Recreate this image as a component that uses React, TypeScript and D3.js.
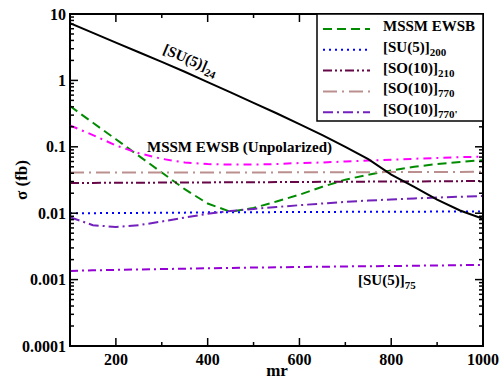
import * as d3 from "d3";

// mr grid (GeV) and cross sections (fb)
const mr = [100, 150, 200, 250, 300, 350, 400, 450, 500, 550, 600, 650, 700, 750, 800, 850, 900, 950, 1000];

const su5_24 = [7.3, 5.2, 3.7, 2.65, 1.9, 1.35, 0.94, 0.66, 0.46, 0.32, 0.22, 0.15, 0.1, 0.065, 0.038, 0.025, 0.016, 0.011, 0.0082];
const mssmEwsb = [0.41, 0.23, 0.13, 0.073, 0.041, 0.023, 0.014, 0.0105, 0.012, 0.015, 0.019, 0.025, 0.032, 0.038, 0.044, 0.05, 0.055, 0.059, 0.063];
const mssmUnpol = [0.21, 0.15, 0.105, 0.08, 0.066, 0.058, 0.055, 0.054, 0.054, 0.055, 0.057, 0.058, 0.06, 0.062, 0.064, 0.066, 0.068, 0.07, 0.071];
const su5_200 = [0.01, 0.01, 0.0101, 0.0101, 0.0102, 0.0102, 0.0103, 0.0103, 0.0103, 0.0104, 0.0104, 0.0104, 0.0105, 0.0105, 0.0105, 0.0105, 0.0106, 0.0106, 0.0106];
const so10_210 = [0.0285, 0.0286, 0.0287, 0.0288, 0.0289, 0.029, 0.0291, 0.0292, 0.0293, 0.0294, 0.0295, 0.0297, 0.0298, 0.0299, 0.03, 0.0301, 0.0302, 0.0304, 0.0306];
const so10_770 = [0.041, 0.041, 0.041, 0.041, 0.041, 0.041, 0.041, 0.041, 0.041, 0.0412, 0.0412, 0.0413, 0.0414, 0.0415, 0.0416, 0.0417, 0.0418, 0.0419, 0.042];
const so10_770p = [0.0087, 0.0066, 0.0062, 0.0066, 0.0075, 0.0086, 0.0098, 0.0108, 0.0116, 0.0124, 0.0132, 0.014, 0.0148, 0.0155, 0.0161, 0.0167, 0.0172, 0.0177, 0.0182];
const su5_75 = [0.00135, 0.00138, 0.0014, 0.00142, 0.00144, 0.00146, 0.00148, 0.0015, 0.00152, 0.00153, 0.00155, 0.00156, 0.00158, 0.00159, 0.0016, 0.00162, 0.00163, 0.00165, 0.00166];

const xTicks = [200, 400, 600, 800, 1000];
const xMinor = [300, 500, 700, 900];
const yTicks = [0.0001, 0.001, 0.01, 0.1, 1, 10];
const yTickLabels = ["0.0001", "0.001", "0.01", "0.1", "1", "10"];

const FONT = "'Liberation Serif', 'Times New Roman', serif";

const series = [
  { name: "MSSM EWSB", sub: "", vals: mssmEwsb, color: "#008b00", dash: "9,5", legend: true },
  { name: "[SU(5)]", sub: "200", vals: su5_200, color: "#0000ff", dash: "2,4", legend: true },
  { name: "[SO(10)]", sub: "210", vals: so10_210, color: "#670748", dash: "9,3,2,3,2,3", legend: true },
  { name: "[SO(10)]", sub: "770", vals: so10_770, color: "#bc8f8f", dash: "14,5,2,5", legend: true },
  { name: "[SO(10)]", sub: "770'", vals: so10_770p, color: "#7221bc", dash: "10,4,2,4", legend: true },
  { name: "", sub: "", vals: mssmUnpol, color: "#ff00ff", dash: "8,5,2,5", legend: false },
  { name: "", sub: "", vals: su5_75, color: "#9400d3", dash: "8,4,2,4", legend: false },
  { name: "", sub: "", vals: su5_24, color: "#000000", dash: "", legend: false },
];

export default function App() {
  const W = 502, H = 379;
  const left = 70, right = 483, top = 14, bottom = 346;
  const x = d3.scaleLinear().domain([100, 1000]).range([left, right]);
  const y = d3.scaleLog().domain([0.0001, 10]).range([bottom, top]);

  const line = (vals: number[]) =>
    d3.line<number>().x((_, i) => x(mr[i])).y((v) => y(v))(vals) || "";

  const minorY: number[] = [];
  for (let e = -4; e < 1; e++) {
    for (let m = 2; m <= 9; m++) minorY.push(m * Math.pow(10, e));
  }

  const legX0 = 317, legX1 = 483, legY0 = 14, legY1 = 121;
  const rowY = (i: number) => 29 + i * 20.8;

  return (
    <svg width={W} height={H} style={{ position: "absolute", left: 0, top: 0, background: "#fff", fontFamily: FONT }}
      fontWeight="bold">
      <defs>
        <clipPath id="plot">
          <rect x={left} y={top} width={right - left} height={bottom - top} />
        </clipPath>
      </defs>

      <g clipPath="url(#plot)" fill="none">
        {series.map((s, i) => (
          <path key={i} d={line(s.vals)} stroke={s.color} strokeWidth={2}
            strokeDasharray={s.dash || undefined} />
        ))}
      </g>

      {/* ticks */}
      <g stroke="#000" strokeWidth={1.5}>
        {xTicks.map((t) => (
          <g key={"xt" + t}>
            <line x1={x(t)} x2={x(t)} y1={bottom} y2={bottom - 8} />
            <line x1={x(t)} x2={x(t)} y1={top} y2={top + 8} />
          </g>
        ))}
        {xMinor.map((t) => (
          <g key={"xm" + t}>
            <line x1={x(t)} x2={x(t)} y1={bottom} y2={bottom - 4} />
            <line x1={x(t)} x2={x(t)} y1={top} y2={top + 4} />
          </g>
        ))}
        {yTicks.map((t) => (
          <g key={"yt" + t}>
            <line x1={left} x2={left + 8} y1={y(t)} y2={y(t)} />
            <line x1={right} x2={right - 8} y1={y(t)} y2={y(t)} />
          </g>
        ))}
        {minorY.map((t) => (
          <g key={"ym" + t}>
            <line x1={left} x2={left + 4} y1={y(t)} y2={y(t)} />
            <line x1={right} x2={right - 4} y1={y(t)} y2={y(t)} />
          </g>
        ))}
      </g>

      <rect x={left} y={top} width={right - left} height={bottom - top}
        fill="none" stroke="#000" strokeWidth={2} />

      {/* tick labels */}
      <g fontSize={16} fill="#000">
        {xTicks.map((t) => (
          <text key={"xl" + t} x={x(t)} y={365} textAnchor="middle">{t}</text>
        ))}
        {yTicks.map((t, i) => (
          <text key={"yl" + t} x={66} y={y(t)} dy="0.35em" textAnchor="end">{yTickLabels[i]}</text>
        ))}
      </g>

      {/* axis titles */}
      <text x={277} y={376} textAnchor="middle" fontSize={17}>mr</text>
      <text transform="translate(27,180) rotate(-90)" textAnchor="middle" fontSize={17}>σ (fb)</text>

      {/* legend */}
      <rect x={legX0} y={legY0} width={legX1 - legX0} height={legY1 - legY0}
        fill="#fff" stroke="#000" strokeWidth={1.5} />
      {series.filter((s) => s.legend).map((s, i) => (
        <g key={"lg" + i}>
          <line x1={323} x2={370} y1={rowY(i)} y2={rowY(i)} stroke={s.color}
            strokeWidth={2} strokeDasharray={s.dash || undefined} />
          <text x={383} y={rowY(i) + 2} fontSize={15}>
            {s.name}
            {s.sub && <tspan fontSize={11} dy={4}>{s.sub}</tspan>}
          </text>
        </g>
      ))}

      {/* curve labels */}
      <text transform="translate(162,53) rotate(23)" fontSize={15}>
        [SU(5)]<tspan fontSize={11} dy={4}>24</tspan>
      </text>
      <text x={147} y={152} fontSize={15}>MSSM EWSB (Unpolarized)</text>
      <text x={358} y={285} fontSize={15}>
        [SU(5)]<tspan fontSize={11} dy={4}>75</tspan>
      </text>
    </svg>
  );
}
